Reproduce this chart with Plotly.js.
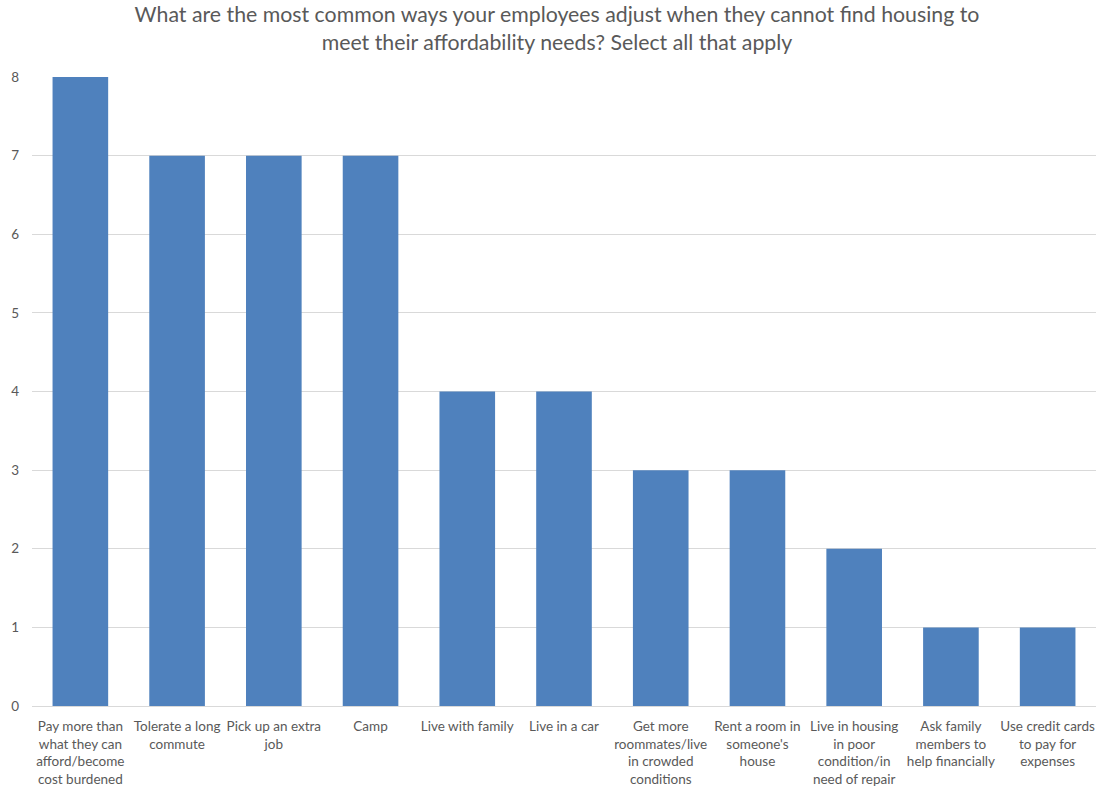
<!DOCTYPE html>
<html>
<head>
<meta charset="utf-8">
<script src="https://cdn.plot.ly/plotly-3.0.1.min.js"></script>
<style>
  html, body { margin: 0; padding: 0; background: #fff; }
  #chart { width: 1104px; height: 790px; }
</style>
</head>
<body>
<div id="chart"></div>
<script>
// Survey responses: ways employees adjust when housing is unaffordable
const categories = [
  "Pay more than<br>what they can<br>afford/become<br>cost burdened",
  "Tolerate a long<br>commute",
  "Pick up an extra<br>job",
  "Camp",
  "Live with family",
  "Live in a car",
  "Get more<br>roommates/live<br>in crowded<br>conditions",
  "Rent a room in<br>someone's<br>house",
  "Live in housing<br>in poor<br>condition/in<br>need of repair",
  "Ask family<br>members to<br>help financially",
  "Use credit cards<br>to pay for<br>expenses"
];
const responses = [8, 7, 7, 7, 4, 4, 3, 3, 2, 1, 1];
const yTicks = [0, 1, 2, 3, 4, 5, 6, 7, 8];

const font = "Lato, Open Sans, sans-serif";

Plotly.newPlot("chart", [{
  type: "bar",
  x: categories,
  y: responses,
  marker: { color: "#4F81BD" },
  hoverinfo: "x+y"
}], {
  width: 1104,
  height: 790,
  margin: { l: 32, r: 8, t: 77, b: 84 },
  paper_bgcolor: "#fff",
  plot_bgcolor: "#fff",
  bargap: 0.425,
  showlegend: false,
  title: {
    text: "What are the most common ways your employees adjust when they cannot find housing to<br>meet their affordability needs? Select all that apply",
    font: { family: font, size: 21.3, color: "#595959" },
    x: 0.5045, xanchor: "center",
    yref: "container",
    y: 0.972, yanchor: "top"
  },
  xaxis: {
    type: "category",
    tickfont: { family: font, size: 13.5, color: "#595959" },
    showgrid: false,
    showline: true,
    linecolor: "#d9d9d9",
    linewidth: 1,
    ticks: "",
    ticklen: 0,
    ticklabelstandoff: 8,
    automargin: false,
    tickangle: 0
  },
  yaxis: {
    range: [0, 8],
    tickvals: yTicks,
    ticktext: yTicks.map(String),
    tickfont: { family: font, size: 13.5, color: "#595959" },
    showgrid: true,
    gridcolor: "#d9d9d9",
    gridwidth: 1,
    zeroline: false,
    showline: false,
    ticks: "",
    ticklabelstandoff: 12,
    automargin: false
  }
}, { displayModeBar: false, staticPlot: true });
</script>
</body>
</html>
